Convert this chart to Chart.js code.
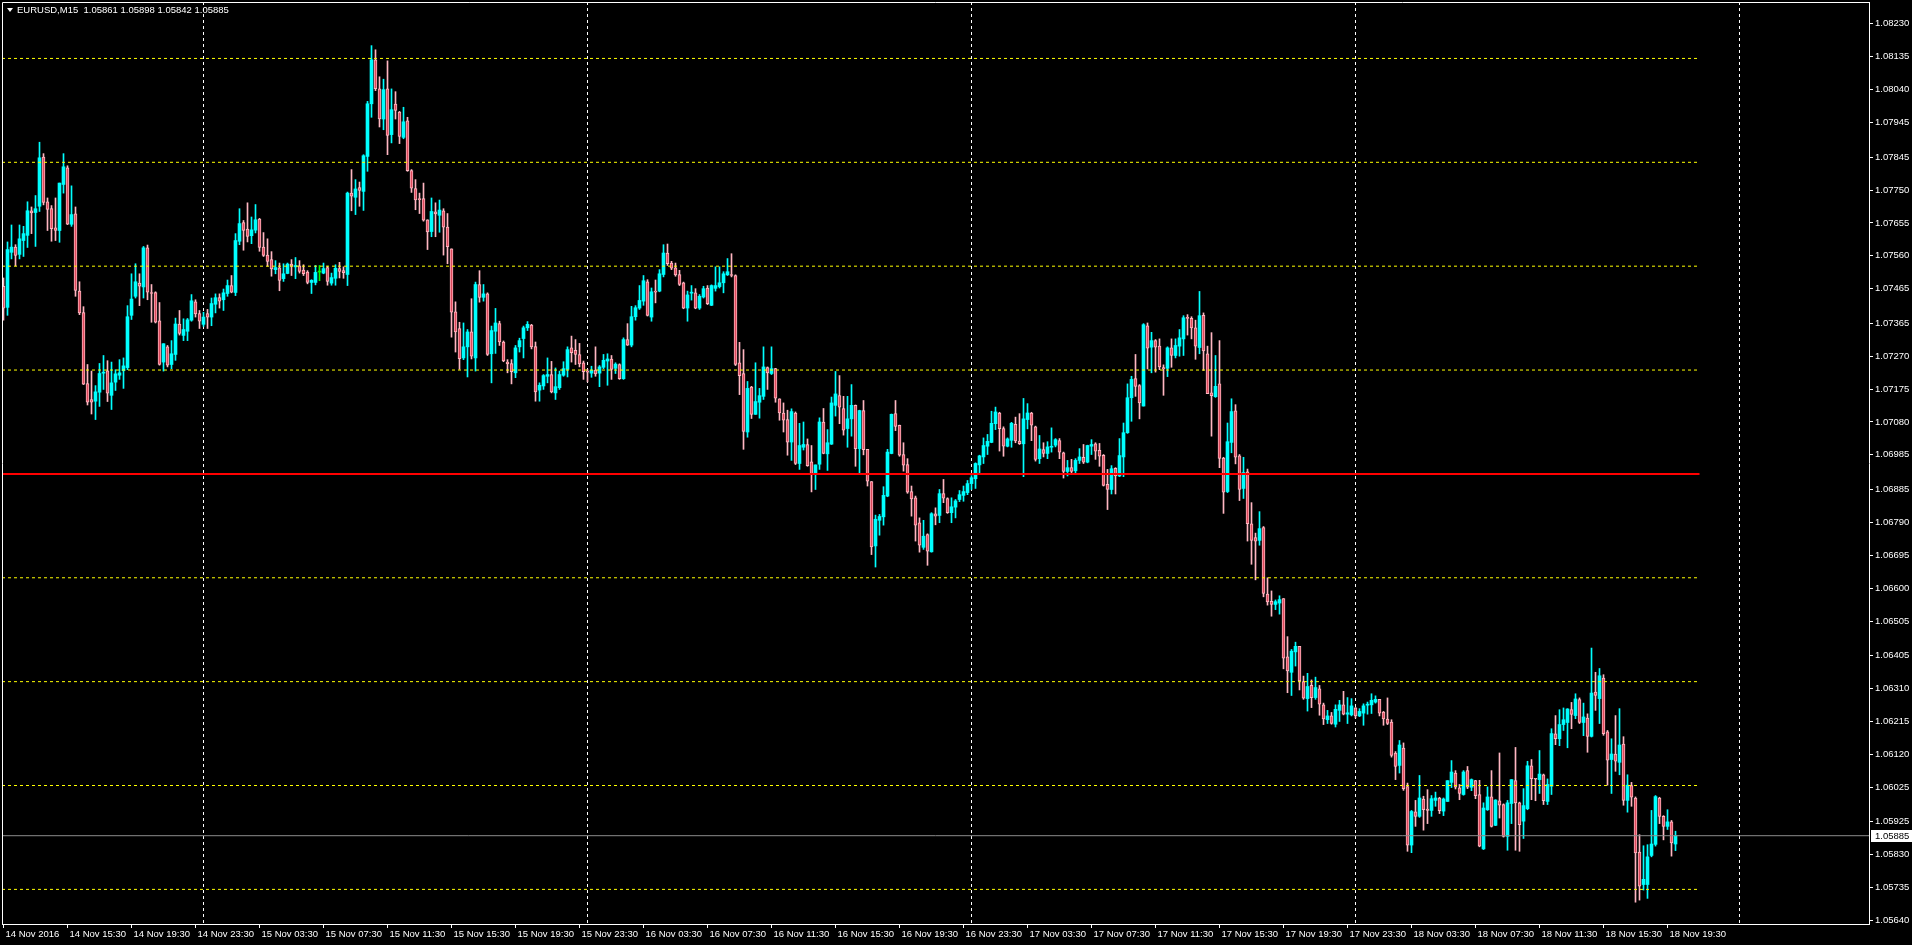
<!DOCTYPE html>
<html>
<head>
<meta charset="utf-8">
<title>EURUSD,M15</title>
<script src="https://cdn.jsdelivr.net/npm/chart.js@4.4.0/dist/chart.umd.min.js"></script>
<style>
  html, body { margin: 0; padding: 0; background: #000; overflow: hidden; }
  #wrap { position: relative; width: 1912px; height: 945px; background: #000; }
  #chart { display: block; }
  #head { position: absolute; left: 7px; top: 4px; color: #fff; font: 9.5px "Liberation Sans", Arial, sans-serif;
          line-height: 11px; white-space: pre; display: flex; align-items: center; }
  #head .tri { width: 0; height: 0; border-left: 3.5px solid transparent; border-right: 3.5px solid transparent;
               border-top: 4px solid #fff; margin-right: 4px; }
</style>
</head>
<body>
<div id="wrap">
  <canvas id="chart" width="1912" height="945"></canvas>
  <div id="head"><span class="tri"></span><span id="headText"></span></div>
</div>
<script>
// EURUSD M15, 14 Nov 2016 11:30 .. 18 Nov 2016 20:00, one entry per bar.
// Prices are stored in points above 1.05000 (e.g. 2472 = 1.07472).
const symbol = 'EURUSD,M15';
const BASE = 1.05;

const openPts = [
  2472,2411,2570,2585,2564,2604,2619,2690,2685,2703, 2845,2716,2696,2641,2633,2766,2814,2651,2681,2458,
  2396,2191,2145,2140,2166,2221,2228,2157,2195,2215, 2228,2237,2388,2443,2481,2470,2583,2453,2454,2372,
  2253,2297,2246,2275,2363,2330,2342,2374,2427,2393, 2362,2393,2383,2420,2439,2433,2451,2474,2454,2602,
  2656,2637,2618,2634,2666,2585,2562,2549,2520,2525, 2494,2509,2536,2528,2531,2519,2513,2483,2483,2513,
  2510,2526,2481,2495,2523,
  2517,2506,2741,2729,2757,2746,2847,2999,3126,3042, 2955,3042,2910,2998,2975,2902,2950,2806,2754,2725,
  2725,2664,2630,2687,2677,2690,2643,2580,2398,2350, 2265,2297,2340,2265,2477,2440,2450,2277,2342,2364,
  2311,2253,2249,2222,2297,2321,2352,2360,2298,2172, 2184,2212,2217,2164,2179,2215,2232,2294,2287,2275,
  2251,2226,2221,2230,2221,2238,2256,2262,2235,2246, 2205,2318,2302,2384,2409,2429,2485,2383,2457,2458,
  2506,2568,2539,2525,2506,2482,2409,2452,2453,2409, 2441,2467,2417,2466,2471,2482,2505,2505,2503,2251,
  2220,2051,2181,2102,2137,2154,2237,2220,2234,2147, 2106,2087,2022,2106,1960,2007,2015,1965,1930,1958,
  2080,1988,2016,2128,2156,2119,2061,2089,2128,2003, 2113,2001,1908,1722,1796,1806,1866,1989,2104,2070,
  1986,1957,1879,1861,1789,1718,1755,1705,1815,1810, 1873,1859,1818,1834,1856,1868,1876,1902,1916,1956,
  1979,2010,2021,2075,2106,2061,2010,2027,2073,2025, 2017,2087,2106,2066,1974,2000,1989,2007,2013,2026,
  1991,1937,1948,1939,1969,1978,1964,2010,2017,1998, 1984,1900,1885,1946,1924,1979,2049,2150,2205,2185,
  2126,2358,2296,2315,2299,
  2237,2235,2294,2272,2299,2320,2381,2379,2352,2295, 2388,2277,2164,2153,2190,1976,1879,2021,2112,1982,
  1888,1936,1786,1746,1738,1775,1583,1562,1553,1557, 1570,1402,1357,1416,1432,1330,1281,1319,1284,1309,
  1263,1220,1231,1207,1247,1263,1236,1234,1254,1231, 1239,1262,1263,1271,1279,
  1242,1222,1213,1124,1088,1138,1027,858,954,941, 991,962,958,987,994,956,984,1039,1066,1023,
  1004,1073,1025,1044,1004,847,960,997,915,986, 975,883,978,1044,980,927,963,1087,1050,1047,
  1061,984,1028,1179,1165,1206,1212,1249,1232,1278, 1212,1225,1172,1300,1281,1340,1185,1105,1121,1097,
  1150,987,1030,994,838,744,744,828,860,994, 941,912,925,861
];

const highPts = [
  2496,2600,2649,2592,2649,2645,2716,2701,2734,2888, 2855,2727,2705,2727,2770,2855,2820,2762,2701,2485,
  2413,2246,2227,2185,2249,2272,2257,2253,2231,2260, 2265,2416,2508,2537,2508,2587,2591,2477,2456,2425,
  2306,2301,2315,2380,2402,2378,2379,2448,2433,2402, 2397,2405,2438,2450,2450,2464,2490,2503,2624,2696,
  2662,2713,2672,2708,2668,2627,2609,2572,2546,2539, 2537,2539,2549,2555,2546,2534,2517,2491,2532,2532,
  2539,2530,2510,2534,2541,
  2528,2744,2809,2780,2773,2852,3006,3167,3155,3077, 3070,3123,3042,3034,2977,2989,2960,2809,2780,2741,
  2770,2664,2727,2713,2721,2696,2682,2580,2427,2368, 2366,2347,2436,2484,2517,2477,2453,2357,2408,2371,
  2314,2260,2260,2301,2322,2357,2370,2362,2311,2193, 2217,2265,2255,2236,2227,2254,2297,2328,2318,2307,
  2256,2232,2241,2297,2243,2275,2277,2272,2251,2248, 2323,2364,2414,2416,2474,2503,2491,2467,2490,2520,
  2592,2594,2544,2539,2518,2484,2458,2474,2465,2448, 2472,2474,2476,2528,2528,2514,2552,2566,2505,2310,
  2289,2197,2183,2251,2177,2297,2239,2297,2235,2147, 2135,2114,2118,2109,2076,2080,2031,2012,1956,2092,
  2119,2058,2152,2226,2214,2154,2154,2188,2129,2114, 2142,2001,1908,1811,1813,1893,2001,2103,2142,2071,
  2020,1974,1895,1866,1803,1796,1757,1818,1832,1885, 1914,1861,1861,1856,1882,1895,1911,1925,1962,1984,
  2034,2044,2111,2123,2108,2066,2034,2079,2094,2104, 2148,2133,2108,2068,2041,2020,2023,2063,2032,2032,
  1993,1969,1972,1974,2003,2015,2013,2029,2020,2018, 1986,1943,1954,1948,2032,2077,2190,2212,2275,2188,
  2364,2366,2339,2318,2320,
  2245,2297,2320,2320,2347,2387,2390,2384,2374,2457, 2395,2299,2338,2272,2315,1978,2077,2147,2130,1986,
  1978,1944,1847,1759,1821,1778,1630,1592,1566,1578, 1570,1460,1423,1444,1432,1346,1354,1335,1343,1319,
  1268,1247,1241,1263,1276,1302,1284,1281,1255,1252, 1266,1271,1295,1289,1279,
  1244,1283,1220,1128,1160,1153,1037,958,987,1059, 999,1018,1001,1011,996,994,1044,1102,1073,1033,
  1073,1085,1049,1045,1045,980,1026,1073,989,1124, 977,987,1047,1140,982,1021,1100,1105,1050,1131,
  1063,1049,1194,1232,1249,1254,1252,1270,1295,1283, 1268,1237,1427,1357,1368,1350,1189,1165,1232,1252,
  1171,1061,1039,997,888,856,859,958,1001,996, 943,960,929,898
];

const lowPts = [
  2374,2388,2551,2531,2551,2558,2584,2624,2587,2688, 2707,2633,2602,2604,2599,2741,2650,2645,2443,2390,
  2188,2129,2103,2087,2125,2174,2139,2116,2171,2203, 2177,2231,2376,2438,2416,2438,2433,2368,2366,2244,
  2227,2239,2234,2258,2331,2315,2315,2371,2383,2350, 2356,2350,2358,2395,2409,2402,2443,2453,2445,2592,
  2576,2600,2595,2626,2573,2558,2530,2501,2508,2459, 2486,2508,2503,2494,2510,2503,2479,2451,2476,2488,
  2508,2475,2475,2475,2496,
  2495,2474,2690,2679,2703,2691,2804,2960,3037,2932, 2924,2852,2886,2955,2884,2898,2804,2743,2693,2682,
  2660,2578,2615,2615,2628,2562,2537,2325,2282,2232, 2260,2210,2262,2227,2426,2429,2272,2193,2278,2301,
  2254,2222,2190,2208,2282,2265,2344,2291,2140,2140, 2174,2193,2164,2145,2174,2212,2210,2253,2246,2239,
  2203,2196,2209,2212,2182,2234,2186,2203,2220,2203, 2203,2301,2297,2374,2405,2417,2386,2371,2424,2456,
  2499,2532,2520,2501,2474,2407,2371,2432,2407,2405, 2438,2419,2416,2458,2467,2453,2503,2499,2243,2159,
  2001,2036,2090,2102,2091,2145,2174,2217,2137,2085, 2051,1984,1969,1957,1943,1999,1952,1878,1885,1943,
  1988,1940,2015,2097,2075,2042,2007,2039,1952,1933, 1985,1895,1697,1661,1753,1782,1864,1988,2055,1981,
  1938,1874,1808,1736,1704,1712,1666,1704,1783,1789, 1847,1816,1789,1803,1850,1851,1870,1885,1888,1933,
  1960,1986,2020,2058,1996,1981,2008,2007,2020,2015, 1922,2060,2026,1967,1960,1979,1974,1993,2008,1974,
  1918,1924,1933,1932,1960,1960,1962,1986,1972,1952, 1895,1827,1872,1872,1922,1922,2047,2082,2154,2089,
  2126,2233,2222,2224,2231,
  2157,2211,2238,2265,2270,2272,2331,2320,2261,2277, 2229,2162,2039,2151,1948,1816,1876,1991,1959,1853,
  1859,1736,1669,1624,1724,1575,1551,1519,1538,1525, 1367,1298,1290,1375,1306,1279,1245,1255,1279,1233,
  1206,1209,1207,1199,1215,1234,1209,1231,1225,1229, 1204,1236,1238,1268,1231,
  1204,1206,1112,1047,1066,1016,840,836,912,938, 901,920,941,970,949,943,984,1024,1020,989,
  1002,1021,1015,992,853,845,958,910,914,936, 881,843,920,843,840,877,960,989,986,1007,
  975,975,1004,1148,1145,1189,1139,1194,1223,1209, 1174,1126,1170,1247,1209,1175,1031,1007,1071,1061,
  973,953,970,693,699,728,704,824,855,920, 873,903,826,842
];

const closePts = [
  2409,2578,2585,2561,2609,2624,2690,2684,2696,2843, 2714,2694,2638,2633,2770,2817,2651,2679,2460,2395,
  2189,2137,2137,2167,2220,2223,2163,2193,2219,2222, 2242,2384,2435,2485,2472,2583,2455,2451,2368,2246,
  2306,2244,2277,2363,2336,2347,2375,2430,2392,2371, 2383,2383,2422,2439,2429,2453,2474,2455,2604,2653,
  2633,2616,2635,2664,2584,2561,2544,2522,2526,2489, 2508,2536,2530,2532,2515,2508,2483,2489,2512,2513,
  2523,2486,2497,2524,2515,
  2511,2741,2732,2753,2749,2849,2999,3126,3043,2955, 3040,2908,2982,2980,2905,2947,2806,2755,2721,2722,
  2663,2629,2688,2681,2692,2643,2586,2397,2340,2263, 2297,2340,2270,2477,2440,2450,2275,2344,2366,2311,
  2256,2248,2225,2294,2315,2352,2362,2297,2167,2186, 2214,2217,2167,2182,2217,2234,2289,2280,2275,2248,
  2225,2224,2229,2219,2239,2258,2262,2232,2247,2205, 2318,2302,2384,2410,2431,2488,2388,2456,2455,2508,
  2568,2537,2524,2505,2477,2409,2447,2454,2409,2443, 2465,2422,2474,2474,2482,2508,2514,2503,2246,2214,
  2053,2177,2102,2139,2156,2239,2222,2234,2149,2106, 2085,2022,2110,1960,2012,2015,1954,1930,1956,2080,
  1989,2020,2135,2161,2123,2056,2089,2128,2003,2113, 2000,1909,1719,1799,1807,1868,1993,2102,2067,1984,
  1955,1877,1858,1782,1724,1750,1707,1815,1808,1873, 1860,1818,1835,1852,1870,1879,1902,1919,1960,1982,
  2012,2024,2076,2109,2061,2010,2031,2076,2025,2017, 2089,2106,2071,1972,2002,1989,2008,2009,2029,1993,
  1937,1948,1937,1969,1979,1964,2012,2015,1996,1981, 1897,1885,1945,1924,1983,2049,2150,2203,2183,2135,
  2361,2293,2315,2296,2239,
  2233,2294,2272,2301,2323,2381,2379,2352,2299,2387, 2285,2162,2156,2183,1975,1877,2023,2110,1978,1885,
  1934,1786,1738,1736,1772,1585,1560,1553,1561,1567, 1398,1361,1418,1432,1332,1282,1316,1284,1313,1265,
  1222,1231,1209,1250,1263,1236,1240,1260,1231,1244, 1260,1264,1276,1279,1239,
  1222,1209,1117,1085,1147,1021,858,955,941,994, 960,958,992,994,957,991,1044,1069,1025,1007,
  1069,1025,1047,1001,855,965,997,912,988,973, 883,980,1047,980,917,972,1087,1050,1048,1063,
  986,1033,1180,1165,1206,1220,1251,1235,1280,1212, 1228,1172,1297,1290,1347,1180,1103,1121,1100,1147,
  987,1031,996,835,739,759,824,861,998,941, 912,925,864,885
];

// time axis: a label every 16 bars (4 hours), bar 0 = 14 Nov 11:30
const timeTickBars = [0,16,32,48,64,80,96,112,128,144,160,176,192,208,224,240,256,272,288,304,320,336,352,368,384,400,416];
const timeLabels = [
  '14 Nov 2016','14 Nov 15:30','14 Nov 19:30','14 Nov 23:30',
  '15 Nov 03:30','15 Nov 07:30','15 Nov 11:30','15 Nov 15:30','15 Nov 19:30','15 Nov 23:30',
  '16 Nov 03:30','16 Nov 07:30','16 Nov 11:30','16 Nov 15:30','16 Nov 19:30','16 Nov 23:30',
  '17 Nov 03:30','17 Nov 07:30','17 Nov 11:30','17 Nov 15:30','17 Nov 19:30','17 Nov 23:30',
  '18 Nov 03:30','18 Nov 07:30','18 Nov 11:30','18 Nov 15:30','18 Nov 19:30'
];
// period separators (midnight bars)
const separatorBars = [50, 146, 242, 338, 434];

const priceTicks = [
  1.08230,1.08135,1.08040,1.07945,1.07845,1.07750,1.07655,1.07560,1.07465,1.07365,
  1.07270,1.07175,1.07080,1.06985,1.06885,1.06790,1.06695,1.06600,1.06505,1.06405,
  1.06310,1.06215,1.06120,1.06025,1.05925,1.05830,1.05735,1.05640
];

// horizontal objects drawn on the chart
const yellowLevels = [1.0813, 1.0783, 1.0753, 1.0723, 1.0663, 1.0633, 1.0603, 1.0573];
const redLevel = 1.0693;
const levelEndBar = 424;

const X_MIN = -0.375, X_MAX = 466.375;
const Y_MIN = 1.05630, Y_MAX = 1.08293;

const BULL = '#00ffff';
const BEAR_FILL = '#dc4a5c';
const BEAR_EDGE = '#ffb6c1';
const DOJI = '#00ff00';
const FONT = '"Liberation Sans", Arial, sans-serif';

const pt = v => BASE + v / 100000;
const bars = openPts.map((o, i) => ({
  i, o: pt(o), h: pt(highPts[i]), l: pt(lowPts[i]), c: pt(closePts[i])
}));
const last = bars[bars.length - 1];

document.getElementById('headText').textContent =
  symbol + '  ' + [last.o, last.h, last.l, last.c].map(v => v.toFixed(5)).join(' ');

function edgeColor(b) {
  if (b.c > b.o) return BULL;
  if (b.c < b.o) return BEAR_EDGE;
  return DOJI;
}
function fillColor(b) {
  if (b.c > b.o) return BULL;
  if (b.c < b.o) return BEAR_FILL;
  return DOJI;
}

const levelSets = yellowLevels.map(lv => ({
  type: 'line',
  data: [{ x: X_MIN, y: lv }, { x: levelEndBar, y: lv }],
  borderColor: '#ffff00',
  borderWidth: 1,
  borderDash: [3, 3],
  pointRadius: 0,
  order: 1
}));

const sepData = [];
separatorBars.forEach(b => {
  sepData.push({ x: b, y: Y_MAX }, { x: b, y: Y_MIN }, { x: b, y: null });
});

const overlay = {
  id: 'overlay',
  afterDraw(chart) {
    const { ctx, chartArea: a } = chart;
    ctx.save();
    // frame top + left (right and bottom come from the axes)
    ctx.strokeStyle = '#fff';
    ctx.lineWidth = 1;
    ctx.beginPath();
    ctx.moveTo(a.left + 0.5, a.bottom);
    ctx.lineTo(a.left + 0.5, a.top + 0.5);
    ctx.lineTo(a.right, a.top + 0.5);
    ctx.stroke();
    // bid price label on the axis
    const y = Math.round(chart.scales.y.getPixelForValue(last.c));
    ctx.fillStyle = '#fff';
    ctx.fillRect(a.right + 2, y - 6, 41, 12);
    ctx.fillStyle = '#000';
    ctx.font = '9.5px ' + FONT;
    ctx.textBaseline = 'middle';
    ctx.fillText(last.c.toFixed(5), a.right + 6, y + 0.5);
    ctx.restore();
  }
};

Chart.defaults.color = '#fff';
Chart.defaults.font.family = FONT;
Chart.defaults.font.size = 9.5;

new Chart(document.getElementById('chart'), {
  type: 'bar',
  data: {
    datasets: [
      {
        type: 'line',
        data: [{ x: X_MIN, y: last.c }, { x: X_MAX, y: last.c }],
        borderColor: '#8c8c8c',
        borderWidth: 1,
        pointRadius: 0,
        order: 0
      },
      {
        type: 'line',
        data: [{ x: X_MIN, y: redLevel }, { x: levelEndBar, y: redLevel }],
        borderColor: '#ff0000',
        borderWidth: 2,
        pointRadius: 0,
        order: 1
      },
      ...levelSets,
      {
        label: 'bodies',
        data: bars.map(b => ({ x: b.i, y: [b.o, b.c] })),
        backgroundColor: bars.map(fillColor),
        borderColor: bars.map(edgeColor),
        borderWidth: bars.map(b => (b.c < b.o ? 1 : 0)),
        borderSkipped: false,
        barThickness: 3,
        minBarLength: 1,
        grouped: false,
        order: 2
      },
      {
        label: 'wicks',
        data: bars.map(b => ({ x: b.i, y: [b.l, b.h] })),
        backgroundColor: bars.map(edgeColor),
        borderWidth: 0,
        barThickness: 1,
        grouped: false,
        order: 3
      },
      {
        type: 'line',
        data: sepData,
        borderColor: '#ffffff',
        borderWidth: 1,
        borderDash: [3, 3],
        pointRadius: 0,
        spanGaps: false,
        order: 4
      }
    ]
  },
  options: {
    responsive: false,
    animation: false,
    events: [],
    layout: { padding: { left: 2, top: 2, right: 0, bottom: 0 } },
    plugins: { legend: { display: false }, tooltip: { enabled: false } },
    scales: {
      x: {
        type: 'linear',
        min: X_MIN,
        max: X_MAX,
        offset: false,
        grid: { offset: false, drawOnChartArea: false, drawTicks: true, tickLength: 4, tickColor: '#fff', color: '#fff' },
        border: { color: '#fff', width: 1 },
        afterBuildTicks: s => { s.ticks = timeTickBars.map(v => ({ value: v })); },
        afterFit: s => { s.height = 21; s.paddingLeft = 0; s.paddingRight = 0; },
        ticks: {
          autoSkip: false,
          maxRotation: 0,
          minRotation: 0,
          align: 'start',
          labelOffset: 2,
          padding: 1,
          color: '#fff',
          font: { size: 9.5, family: FONT },
          callback: (v, i) => timeLabels[i]
        }
      },
      y: {
        type: 'linear',
        position: 'right',
        min: Y_MIN,
        max: Y_MAX,
        beginAtZero: false,
        grid: { drawOnChartArea: false, drawTicks: true, tickLength: 4, tickColor: '#fff', color: '#fff' },
        border: { color: '#fff', width: 1 },
        afterBuildTicks: s => { s.ticks = priceTicks.map(v => ({ value: v })); },
        afterFit: s => { s.width = 43; s.paddingTop = 0; s.paddingBottom = 0; },
        ticks: {
          autoSkip: false,
          padding: 2,
          color: '#fff',
          font: { size: 9.5, family: FONT },
          callback: v => v.toFixed(5)
        }
      }
    }
  },
  plugins: [overlay]
});
</script>
</body>
</html>
